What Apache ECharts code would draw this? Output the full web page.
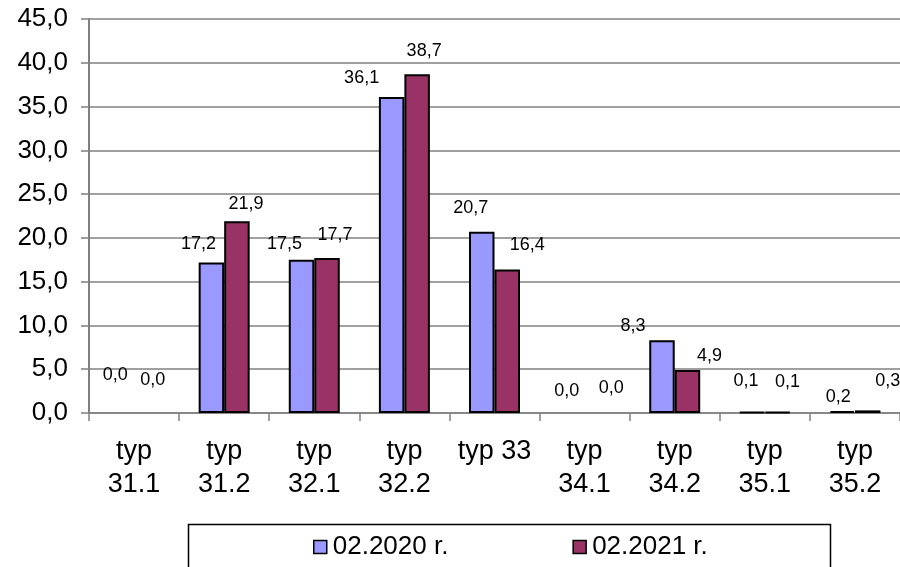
<!DOCTYPE html>
<html>
<head>
<meta charset="utf-8">
<script src="https://cdn.jsdelivr.net/npm/echarts@6/dist/echarts.min.js"></script>
<style>
html,body{margin:0;padding:0;background:#fff;}
#chart{width:900px;height:567px;}
</style>
</head>
<body>
<div id="chart"></div>
<script>
// ---- data ----
var categories = ['typ 31.1','typ 31.2','typ 32.1','typ 32.2','typ 33','typ 34.1','typ 34.2','typ 35.1','typ 35.2'];
var seriesNames = ['02.2020 r.','02.2021 r.'];
var values2020 = [0.0, 17.2, 17.5, 36.1, 20.7, 0.0, 8.3, 0.1, 0.2];
var values2021 = [0.0, 21.9, 17.7, 38.7, 16.4, 0.0, 4.9, 0.1, 0.3];
var yMin = 0, yMax = 45, yStep = 5;

// ---- label placement (styling only, mimics the original's label shifts) ----
var labelShift2020 = [[-6,-29],[-13,-9],[-17,-7],[-30,-10],[-11,-15],[-5,-13],[-29,-5],[-6,-22],[-4,-5]];
var labelShift2021 = [[6,-24],[9,-8],[8,-14],[7,-14],[20,-15],[14,-16],[22,-5],[10,-21],[20,-20]];

var FONT = '"Liberation Sans", Arial, sans-serif';
function fmt(v){ return Number(v).toFixed(1).replace('.', ','); }

function makeData(vals, shifts){
  return vals.map(function(v,i){
    var d = {value:v, label:{offset:shifts[i]}};
    if (v === 0) d.itemStyle = {borderWidth:0};
    return d;
  });
}

var chart = echarts.init(document.getElementById('chart'), null, {renderer:'canvas'});
var barStyleCommon = {borderColor:'#000', borderWidth:2};
var labelCommon = {show:true, position:'top', distance:0, color:'#000', fontFamily:FONT, fontSize:18,
  formatter:function(p){ return fmt(p.value); }};

chart.setOption({
  animation:false,
  backgroundColor:'#fff',
  grid:{left:89, top:19, width:815, height:394, containLabel:false},
  xAxis:{
    type:'category', data:categories,
    axisLine:{show:true, lineStyle:{color:'#808080', width:1.5}},
    axisTick:{show:true, alignWithLabel:false, length:8, lineStyle:{color:'#808080', width:1.5}},
    axisLabel:{interval:0, color:'#000', fontFamily:FONT, fontSize:27, lineHeight:33, margin:22,
      formatter:function(n){ return n.length > 6 ? n.replace(' ', '\n') : n; }},
    splitLine:{show:false}
  },
  yAxis:{
    type:'value', min:yMin, max:yMax, interval:yStep,
    axisLine:{show:true, lineStyle:{color:'#808080', width:2}},
    axisTick:{show:true, length:8, lineStyle:{color:'#808080', width:1.5}},
    axisLabel:{color:'#000', fontFamily:FONT, fontSize:26, margin:21, formatter:function(v){ return fmt(v); }},
    splitLine:{show:true, lineStyle:{color:'#808080', width:1.5}}
  },
  legend:{
    show:true, left:313, top:534, padding:0, itemGap:124, itemWidth:13, itemHeight:13, icon:'rect',
    textStyle:{color:'#000', fontFamily:FONT, fontSize:26, lineHeight:26, padding:[0,0,0,1]},
    itemStyle:{borderColor:'#000', borderWidth:1.5},
    data:seriesNames
  },
  graphic:[{
    type:'rect', left:186, top:522, silent:true, z:-1,
    shape:{width:642, height:60},
    style:{fill:'none', stroke:'#000', lineWidth:1.5}
  }],
  series:[
    {name:seriesNames[0], type:'bar', barWidth:25.5, barGap:'0%',
     itemStyle:Object.assign({color:'#9999FF'}, barStyleCommon),
     label:labelCommon, data:makeData(values2020, labelShift2020)},
    {name:seriesNames[1], type:'bar', barWidth:25.5, barGap:'0%',
     itemStyle:Object.assign({color:'#993366'}, barStyleCommon),
     label:labelCommon, data:makeData(values2021, labelShift2021)}
  ]
});
</script>
</body>
</html>
